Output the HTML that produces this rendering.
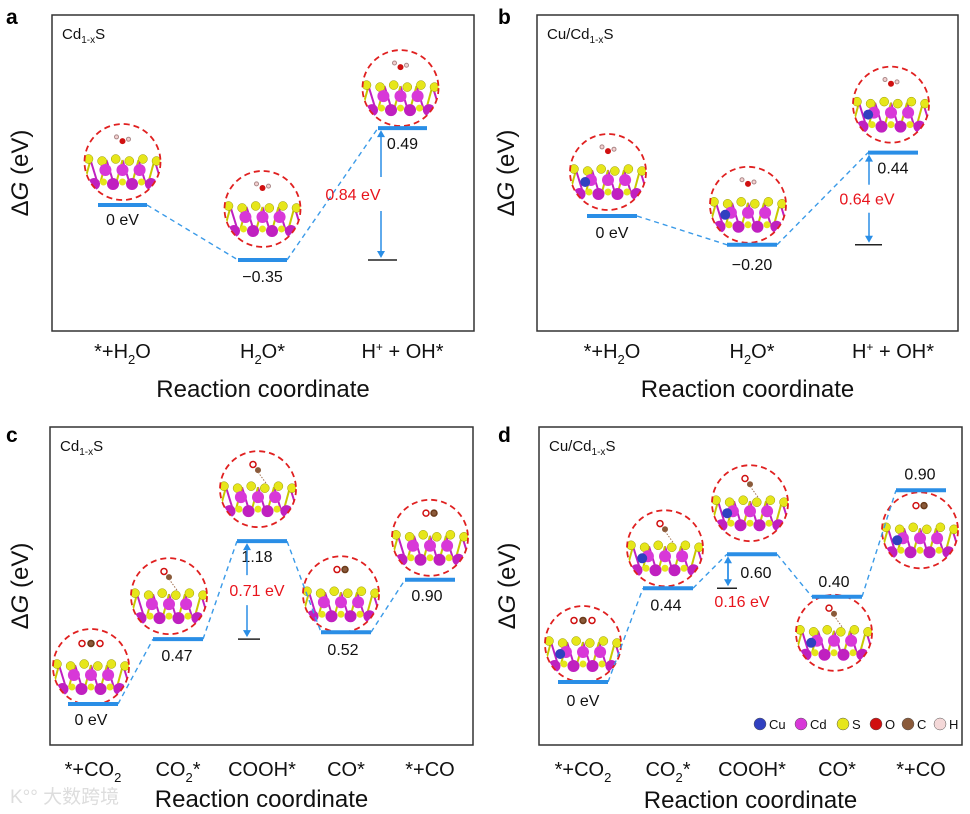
<!DOCTYPE html>
<html><head><meta charset="utf-8">
<style>
html,body{margin:0;padding:0;background:#fff;}
svg{display:block;font-family:"Liberation Sans",Arial,sans-serif;}
</style></head>
<body>
<svg id="fig" width="970" height="814" viewBox="0 0 970 814" xmlns="http://www.w3.org/2000/svg"></svg>
<script>
// ---- data ----
const catsA = ["*+H2O","H2O*","H+ + OH*"];
const energiesA = [0, -0.35, 0.49];
const labelsA = ["0 eV","\u22120.35","0.49"];
const barrierA = [0.84];

const catsB = ["*+H2O","H2O*","H+ + OH*"];
const energiesB = [0, -0.20, 0.44];
const labelsB = ["0 eV","\u22120.20","0.44"];
const barrierB = [0.64];

const catsC = ["*+CO2","CO2*","COOH*","CO*","*+CO"];
const energiesC = [0, 0.47, 1.18, 0.52, 0.90];
const labelsC = ["0 eV","0.47","1.18","0.52","0.90"];
const barrierC = [0.71];

const catsD = ["*+CO2","CO2*","COOH*","CO*","*+CO"];
const energiesD = [0, 0.44, 0.60, 0.40, 0.90];
const labelsD = ["0 eV","0.44","0.60","0.40","0.90"];
const barrierD = [0.16];

const NS="http://www.w3.org/2000/svg";
const svg=document.getElementById('fig');
function mk(tag,attrs,parent){const e=document.createElementNS(NS,tag);for(const k in attrs)e.setAttribute(k,attrs[k]);(parent||svg).appendChild(e);return e;}

function catLabel(g,txt,x,y){
  const t=mk('text',{x:x,y:y,'text-anchor':'middle','font-size':20,fill:'#111'},g);
  
  
  const map={"*+H2O":[["*+H",0],["2",1],["O",0]],"H2O*":[["H",0],["2",1],["O*",0]],"H+ + OH*":[["H",0],["+",2],[" + OH*",0]],
    "*+CO2":[["*+CO",0],["2",1]],"CO2*":[["CO",0],["2",1],["*",0]],"COOH*":[["COOH*",0]],"CO*":[["CO*",0]],"*+CO":[["*+CO",0]]};
  (map[txt]||[[txt,0]]).forEach(p=>{const s=mk('tspan',{},t);s.textContent=p[0];
    if(p[1]==1){s.setAttribute('font-size',13);s.setAttribute('dy',6);}
    else if(p[1]==2){s.setAttribute('font-size',12);s.setAttribute('dy',-7);}
    else{s.setAttribute('dy',0);}
  });
  let prev=0;Array.from(t.children).forEach(s=>{const d=+s.getAttribute('dy');s.setAttribute('dy',d-prev);prev=d;});
}

function molecule(g,cx,cy,r,cu,ads){
  const c=mk('g',{},g);
  
  
  const clipId='cl'+Math.round(cx)+'_'+Math.round(cy);
  const cp=mk('clipPath',{id:clipId},c);mk('circle',{cx:cx,cy:cy,r:r},cp);
  const inner=mk('g',{'clip-path':'url(#'+clipId+')'},c);
  const top=cy-2;
  for(let i=0;i<5;i++){const x=cx-r+6+i*(2*r-12)/4;
    mk('line',{x1:x,y1:top,x2:x+8,y2:top+26,stroke:'#c020c0','stroke-width':2},inner);
    mk('line',{x1:x,y1:top,x2:x-6,y2:top+22,stroke:'#c8c800','stroke-width':2},inner);}
  for(let i=0;i<6;i++){const x=cx-r+4+i*(2*r-8)/5;mk('circle',{cx:x,cy:top+(i%2?1:-1),r:4.5,fill:'#e6e61a',stroke:'#999900','stroke-width':0.5},inner);}
  for(let i=0;i<3;i++){const x=cx-r*0.45+i*r*0.45;mk('circle',{cx:x,cy:top+10,r:6,fill:'#d838d8'},inner);}
  for(let i=0;i<4;i++){const x=cx-r*0.75+i*r*0.5;mk('circle',{cx:x,cy:top+24,r:6,fill:'#c020c0'},inner);}
  for(let i=0;i<3;i++){const x=cx-r*0.5+i*r*0.5;mk('circle',{cx:x,cy:top+22,r:3.5,fill:'#e6e61a'},inner);}
  if(cu) mk('circle',{cx:cx-r*0.6,cy:top+12,r:5,fill:'#3040c0'},inner);
  if(ads=='h2o'){mk('circle',{cx:cx,cy:cy-r*0.55,r:3,fill:'#d01010'},inner);mk('circle',{cx:cx-6,cy:cy-r*0.66,r:2,fill:'#f4d0d0',stroke:'#a88'},inner);mk('circle',{cx:cx+6,cy:cy-r*0.6,r:2,fill:'#f4d0d0',stroke:'#a88'},inner);}
  if(ads=='co2'){[-9,0,9].forEach((d,i)=>mk('circle',{cx:cx+d,cy:cy-r*0.62,r:3,fill:i==1?'#8a5a3a':'#fff',stroke:i==1?'#6a3a1a':'#d01010','stroke-width':1.5},inner));}
  if(ads=='co'){[-4,4].forEach((d,i)=>mk('circle',{cx:cx+d,cy:cy-r*0.65,r:3,fill:i?'#8a5a3a':'#fff',stroke:i?'#6a3a1a':'#d01010','stroke-width':1.5},inner));}
  if(ads=='ads'){mk('circle',{cx:cx,cy:cy-r*0.5,r:3,fill:'#8a5a3a'},inner);mk('circle',{cx:cx-5,cy:cy-r*0.65,r:3,fill:'#fff',stroke:'#d01010','stroke-width':1.5},inner);mk('line',{x1:cx,y1:cy-r*0.45,x2:cx+8,y2:top-4,stroke:'#a07050','stroke-dasharray':'1.5 1.5'},inner);}
  mk('circle',{cx:cx,cy:cy,r:r,fill:'none',stroke:'#e02020','stroke-width':1.8,'stroke-dasharray':'6 4'},c);
}

function panel(cfg){
  const g=mk('g',{});
  
  
  const y=e=>cfg.y0-e*cfg.k;
  const box=mk('rect',{x:cfg.bx,y:cfg.by,width:cfg.bw,height:cfg.bh,fill:'none',stroke:'#333','stroke-width':1.5},g);
  
  const letter=mk('text',{x:cfg.lx,y:cfg.ly,'font-size':21,'font-weight':'bold',fill:'#000'},g);letter.textContent=cfg.letter;
  
  const ttl=mk('text',{x:cfg.bx+10,y:cfg.by+24,'font-size':15,fill:'#111'},g);
  
  const parts=cfg.cu?[["Cu/Cd",0],["1-x",1],["S",0]]:[["Cd",0],["1-x",1],["S",0]];
  parts.forEach(p=>{const s=mk('tspan',{},ttl);s.textContent=p[0];if(p[1]){s.setAttribute('font-size',10);s.setAttribute('dy',4);}else if(p[0]=='S'){s.setAttribute('dy',-4);}});
  const yl=mk('text',{x:0,y:0,'font-size':24,fill:'#111','text-anchor':'middle',transform:`translate(${cfg.yax},${cfg.by+cfg.bh/2}) rotate(-90)`},g);
  
  const s1=mk('tspan',{},yl);s1.textContent='\u0394';const s2=mk('tspan',{'font-style':'italic'},yl);s2.textContent='G';const s3=mk('tspan',{},yl);s3.textContent=' (eV)';
  const xt=mk('text',{x:cfg.bx+cfg.bw/2,y:cfg.xty,'font-size':24,fill:'#111','text-anchor':'middle'},g);xt.textContent='Reaction coordinate';
  
  cfg.mols.forEach((m,i)=>molecule(g,cfg.xs[i]+cfg.w/2+m[0],y(cfg.E[i])+m[1],cfg.r,cfg.cu,m[2]));
  for(let i=0;i<cfg.E.length-1;i++){
    const ln=mk('line',{x1:cfg.xs[i]+cfg.w,y1:y(cfg.E[i]),x2:cfg.xs[i+1],y2:y(cfg.E[i+1]),stroke:'#3a9ae8','stroke-width':1.4,'stroke-dasharray':'5 4'},g);
    
  }
  cfg.E.forEach((e,i)=>{
    const l=mk('line',{x1:cfg.xs[i],y1:y(e),x2:cfg.xs[i]+cfg.w,y2:y(e),stroke:'#2a8ee6','stroke-width':4},g);
    
    const t=mk('text',{x:cfg.xs[i]+cfg.w/2+cfg.lab[i][0],y:y(e)+cfg.lab[i][1],'font-size':16,fill:'#111','text-anchor':'middle'},g);
    t.textContent=cfg.L[i];
  });
  const bi=cfg.bi, top=y(cfg.E[bi]), bot=y(cfg.E[bi]-cfg.B[0]);
  const rl=mk('line',{x1:cfg.refx[0],y1:bot,x2:cfg.refx[1],y2:bot,stroke:'#222','stroke-width':1.5},g);
  
  const ax=cfg.arx, gap=cfg.gap;
  const mid=(top+bot)/2;
  mk('line',{x1:ax,y1:top+6,x2:ax,y2:gap?mid-gap:bot-6,stroke:'#2a8ee6','stroke-width':1.5},g);
  mk('line',{x1:ax,y1:gap?mid+gap:top+6,x2:ax,y2:bot-6,stroke:'#2a8ee6','stroke-width':1.5},g);
  mk('path',{d:`M${ax-4} ${top+9}L${ax} ${top+2}L${ax+4} ${top+9}Z`,fill:'#2a8ee6'},g);
  mk('path',{d:`M${ax-4} ${bot-9}L${ax} ${bot-2}L${ax+4} ${bot-9}Z`,fill:'#2a8ee6'},g);
  const bt=mk('text',{x:cfg.btx,y:cfg.bty==null?mid+6:cfg.bty,'font-size':16,fill:'#e8141c','text-anchor':'middle'},g);
  bt.textContent=cfg.B[0].toFixed(2)+' eV';
  cfg.C.forEach((c,i)=>catLabel(g,c,cfg.xs[i]+cfg.w/2+cfg.cshift,cfg.cy));
}

panel({name:'panel-a',letter:'a',lx:6,ly:24,bx:52,by:15,bw:422,bh:316,yax:28,xty:397,cy:358,cshift:0,
  C:catsA,E:energiesA,L:labelsA,B:barrierA,k:157,y0:205,xs:[98,238,378],w:49,r:38,
  lab:[[0,20],[0,22],[0,21]],mols:[[0,-43,'h2o'],[0,-51,'h2o'],[-2,-40,'h2o']],
  bi:2,refx:[368,397],arx:381,gap:17,btx:353});
panel({name:'panel-b',letter:'b',lx:498,ly:24,bx:537,by:15,bw:421,bh:316,yax:514,xty:397,cy:358,cshift:0,
  C:catsB,E:energiesB,L:labelsB,B:barrierB,k:144,y0:216,xs:[587,727,868],w:50,r:38,
  lab:[[0,22],[0,25],[0,21]],mols:[[-4,-44,'h2o'],[-4,-40,'h2o'],[-2,-48,'h2o']],cu:true,
  bi:2,refx:[855,882],arx:869,gap:14,btx:867});
panel({name:'panel-c',letter:'c',lx:6,ly:442,bx:50,by:427,bw:423,bh:318,yax:28,xty:807,cy:776,cshift:0,
  C:catsC,E:energiesC,L:labelsC,B:barrierC,k:138,y0:704,xs:[68,153,237,321,405],w:50,r:38,
  lab:[[-2,21],[-1,22],[-5,21],[-3,23],[-3,21]],mols:[[-2,-37,'co2'],[-9,-43,'ads'],[-4,-52,'ads'],[-5,-38,'co'],[0,-42,'co']],
  bi:2,refx:[238,260],arx:247,gap:15,btx:257});
panel({name:'panel-d',letter:'d',lx:498,ly:442,bx:539,by:427,bw:423,bh:318,yax:515,xty:808,cy:776,cshift:0,
  C:catsD,E:energiesD,L:labelsD,B:barrierD,k:213,y0:682,xs:[558,643,727,812,896],w:50,r:38,
  lab:[[0,24],[-2,22],[4,24],[-3,-10],[-1,-11]],mols:[[0,-38,'co2'],[-3,-40,'ads'],[-2,-51,'ads'],[-3,36,'ads'],[-1,40,'co']],cu:true,
  bi:2,refx:[717,737],arx:728,gap:0,btx:742,bty:607});

const lg=mk('g',{});


const legItems=[["Cu","#3040c0",760],["Cd","#d838d8",801],["S","#e6e61a",843],["O","#d01010",876],["C","#8a5a3a",908],["H","#f4d8d8",940]];
legItems.forEach(it=>{
  const c=mk('circle',{cx:it[2],cy:724,r:6,fill:it[1],stroke:'#555','stroke-width':0.5},lg);
  
  const t=mk('text',{x:it[2]+9,y:729,'font-size':13,fill:'#111'},lg);t.textContent=it[0];
  
});
const wm=mk('text',{x:10,y:803,'font-size':19,fill:'#ddd','font-family':'"Liberation Sans","Noto Sans CJK SC",sans-serif'});
wm.textContent='K\u00b0\u00b0 大数跨境';


</script>
</body></html>
